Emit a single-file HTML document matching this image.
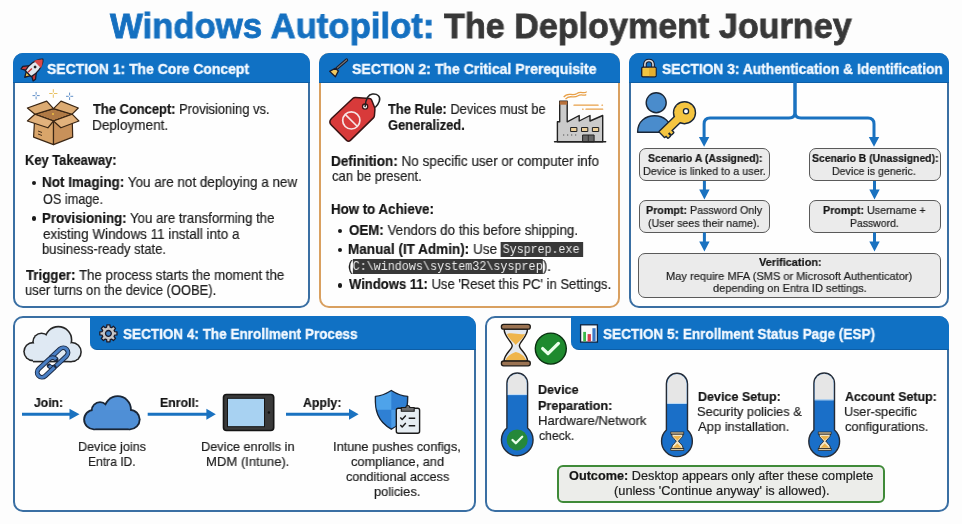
<!DOCTYPE html>
<html><head><meta charset="utf-8"><style>
*{margin:0;padding:0;box-sizing:border-box}
html,body{width:962px;height:524px;overflow:hidden;background:#fdfdfd;font-family:"Liberation Sans",sans-serif;color:#222}
.a{position:absolute}
.L{position:absolute;white-space:nowrap;transform-origin:0 0;will-change:transform;-webkit-text-stroke:0.2px currentColor}
b{font-weight:bold;color:#151515}
.code{background:#383838;color:#ececec;font-family:"Liberation Mono",monospace;font-size:0.86em;-webkit-text-stroke:0}
</style></head><body>
<!-- boxes -->
<div class="a" style="left:13.3px;top:53px;width:296.7px;height:254.5px;border:2.2px solid #3a6fa3;border-radius:10px;background:#fefefe;overflow:hidden"></div>
<div class="a" style="left:319px;top:53px;width:301px;height:254.5px;border:2.2px solid #d9a060;border-radius:10px;background:#fefefe;overflow:hidden"></div>
<div class="a" style="left:629.3px;top:53px;width:319.8px;height:254.5px;border:2.2px solid #3a6fa3;border-radius:10px;background:#fefefe;overflow:hidden"></div>
<div class="a" style="left:13.3px;top:316.3px;width:463.2px;height:195.5px;border:2.2px solid #3a6fa3;border-radius:10px;background:#fefefe;overflow:hidden"></div>
<div class="a" style="left:485.1px;top:316.3px;width:463.9px;height:195.5px;border:2.2px solid #3a6fa3;border-radius:10px;background:#fefefe;overflow:hidden"></div>
<div class="a" style="left:13.3px;top:53px;width:296.7px;height:29.8px;background:#1071c4;border-bottom:1px solid #0d5ea6;border-radius:10px 10px 0 0"></div>
<div class="a" style="left:319px;top:53px;width:301px;height:29.8px;background:#1071c4;border-bottom:1px solid #0d5ea6;border-radius:10px 10px 0 0"></div>
<div class="a" style="left:629.3px;top:53px;width:319.8px;height:29.8px;background:#1071c4;border-bottom:1px solid #0d5ea6;border-radius:10px 10px 0 0"></div>
<div class="a" style="left:90.4px;top:316.3px;width:386.1px;height:33.8px;background:#1071c4;border-bottom:1px solid #0d5ea6;border-radius:0 10px 0 7px"></div>
<div class="a" style="left:571px;top:316.3px;width:378px;height:33.8px;background:#1071c4;border-bottom:1px solid #0d5ea6;border-radius:0 10px 0 8px"></div>
<!-- s3 grey boxes -->
<div class="a" style="left:639.2px;top:147.6px;width:131px;height:33px;background:#ebebeb;border:1.4px solid #5a5a5a;border-radius:7px"></div>
<div class="a" style="left:808.8px;top:147.6px;width:131.9px;height:33px;background:#ebebeb;border:1.4px solid #5a5a5a;border-radius:7px"></div>
<div class="a" style="left:639.2px;top:200.3px;width:131px;height:32.4px;background:#ebebeb;border:1.4px solid #5a5a5a;border-radius:7px"></div>
<div class="a" style="left:808.8px;top:200.3px;width:131.9px;height:32.4px;background:#ebebeb;border:1.4px solid #5a5a5a;border-radius:7px"></div>
<div class="a" style="left:638.3px;top:252.7px;width:302.4px;height:45.5px;background:#ebebeb;border:1.4px solid #5a5a5a;border-radius:7px"></div>
<!-- outcome -->
<div class="a" style="left:556.8px;top:465px;width:328.2px;height:37.5px;background:#ecedea;border:2px solid #3f8a38;border-radius:6px"></div>
<!-- bullets -->
<div class="a" style="left:31.7px;top:180.9px;width:4.6px;height:4.6px;border-radius:50%;background:#1a1a1a"></div>
<div class="a" style="left:31.7px;top:216.4px;width:4.6px;height:4.6px;border-radius:50%;background:#1a1a1a"></div>
<div class="a" style="left:337.6px;top:228.9px;width:4.6px;height:4.6px;border-radius:50%;background:#1a1a1a"></div>
<div class="a" style="left:337.6px;top:247.6px;width:4.6px;height:4.6px;border-radius:50%;background:#1a1a1a"></div>
<div class="a" style="left:337.6px;top:283px;width:4.6px;height:4.6px;border-radius:50%;background:#1a1a1a"></div>

<div class="L" style="left:110.40px;top:0.97px;font-size:35px;line-height:49.0px;color:#1570c0;font-weight:bold;-webkit-text-stroke:0.8px #1570c0;transform:scaleX(0.9926)">Windows Autopilot:</div>
<div class="L" style="left:444.00px;top:0.97px;font-size:35px;line-height:49.0px;color:#383838;font-weight:bold;-webkit-text-stroke:0.8px #383838;transform:scaleX(0.9749)">The Deployment Journey</div>
<div class="L" style="left:47.15px;top:58.92px;font-size:14.6px;line-height:20.44px;color:#f3f9ff;font-weight:bold;-webkit-text-stroke:0.35px #f3f9ff;transform:scaleX(0.9548)">SECTION 1: The Core Concept</div>
<div class="L" style="left:351.54px;top:58.92px;font-size:14.6px;line-height:20.44px;color:#f3f9ff;font-weight:bold;-webkit-text-stroke:0.35px #f3f9ff;transform:scaleX(0.9631)">SECTION 2: The Critical Prerequisite</div>
<div class="L" style="left:661.85px;top:58.92px;font-size:14.6px;line-height:20.44px;color:#f3f9ff;font-weight:bold;-webkit-text-stroke:0.35px #f3f9ff;transform:scaleX(0.9454)">SECTION 3: Authentication &amp; Identification</div>
<div class="L" style="left:123.07px;top:323.62px;font-size:14.6px;line-height:20.44px;color:#f3f9ff;font-weight:bold;-webkit-text-stroke:0.35px #f3f9ff;transform:scaleX(0.9267)">SECTION 4: The Enrollment Process</div>
<div class="L" style="left:603.07px;top:323.62px;font-size:14.6px;line-height:20.44px;color:#f3f9ff;font-weight:bold;-webkit-text-stroke:0.35px #f3f9ff;transform:scaleX(0.9289)">SECTION 5: Enrollment Status Page (ESP)</div>
<div class="L" style="left:93.40px;top:99.84px;font-size:14.1px;line-height:19.74px;color:#1e1e1e;;transform:scaleX(0.9161)"><b>The Concept:</b> Provisioning vs.</div>
<div class="L" style="left:92.44px;top:115.94px;font-size:14.1px;line-height:19.74px;color:#1e1e1e;;transform:scaleX(0.9636)">Deployment.</div>
<div class="L" style="left:24.68px;top:151.44px;font-size:14.1px;line-height:19.74px;color:#1e1e1e;;transform:scaleX(0.9153)"><b>Key Takeaway:</b></div>
<div class="L" style="left:42.44px;top:173.14px;font-size:14.1px;line-height:19.74px;color:#1e1e1e;;transform:scaleX(0.9553)"><b>Not Imaging:</b> You are not deploying a new</div>
<div class="L" style="left:42.50px;top:189.54px;font-size:14.1px;line-height:19.74px;color:#1e1e1e;;transform:scaleX(0.9000)">OS image.</div>
<div class="L" style="left:42.46px;top:208.64px;font-size:14.1px;line-height:19.74px;color:#1e1e1e;;transform:scaleX(0.9390)"><b>Provisioning:</b> You are transforming the</div>
<div class="L" style="left:43.40px;top:224.54px;font-size:14.1px;line-height:19.74px;color:#1e1e1e;;transform:scaleX(0.9544)">existing Windows 11 install into a</div>
<div class="L" style="left:42.47px;top:240.14px;font-size:14.1px;line-height:19.74px;color:#1e1e1e;;transform:scaleX(0.9258)">business-ready state.</div>
<div class="L" style="left:25.60px;top:265.74px;font-size:14.1px;line-height:19.74px;color:#1e1e1e;;transform:scaleX(0.9429)"><b>Trigger:</b> The process starts the moment the</div>
<div class="L" style="left:24.68px;top:281.34px;font-size:14.1px;line-height:19.74px;color:#1e1e1e;;transform:scaleX(0.9175)">user turns on the device (OOBE).</div>
<div class="L" style="left:388.00px;top:99.74px;font-size:14.1px;line-height:19.74px;color:#1e1e1e;;transform:scaleX(0.9145)"><b>The Rule:</b> Devices must be</div>
<div class="L" style="left:388.00px;top:115.74px;font-size:14.1px;line-height:19.74px;color:#1e1e1e;;transform:scaleX(0.9157)"><b>Generalized.</b></div>
<div class="L" style="left:330.64px;top:151.94px;font-size:14.1px;line-height:19.74px;color:#1e1e1e;;transform:scaleX(0.9586)"><b>Definition:</b> No specific user or computer info</div>
<div class="L" style="left:331.60px;top:166.94px;font-size:14.1px;line-height:19.74px;color:#1e1e1e;;transform:scaleX(0.9240)">can be present.</div>
<div class="L" style="left:330.96px;top:199.54px;font-size:14.1px;line-height:19.74px;color:#1e1e1e;;transform:scaleX(0.9430)"><b>How to Achieve:</b></div>
<div class="L" style="left:348.60px;top:221.14px;font-size:14.1px;line-height:19.74px;color:#1e1e1e;;transform:scaleX(0.9461)"><b>OEM:</b> Vendors do this before shipping.</div>
<div class="L" style="left:347.64px;top:239.84px;font-size:14.1px;line-height:19.74px;color:#1e1e1e;;transform:scaleX(0.9598)"><b>Manual (IT Admin):</b> Use <span class="code" style="padding:0.8px 4px 0 2px;position:relative;top:-1px">Sysprep.exe</span></div>
<div class="L" style="left:347.63px;top:256.94px;font-size:14.1px;line-height:19.74px;color:#1e1e1e;;transform:scaleX(0.9691)">(<span class="code" style="padding:0.8px 0 0 0;position:relative;top:-1px">C:\windows\system32\sysprep</span>).</div>
<div class="L" style="left:348.60px;top:275.24px;font-size:14.1px;line-height:19.74px;color:#1e1e1e;;transform:scaleX(0.9252)"><b>Windows 11:</b> Use 'Reset this PC' in Settings.</div>
<div class="L" style="left:647.90px;top:151.18px;font-size:11.2px;line-height:15.68px;color:#1e1e1e;;transform:scaleX(0.9364)"><b>Scenario A (Assigned):</b></div>
<div class="L" style="left:643.43px;top:163.58px;font-size:11.2px;line-height:15.68px;color:#1e1e1e;;transform:scaleX(0.9672)">Device is linked to a user.</div>
<div class="L" style="left:812.20px;top:151.18px;font-size:11.2px;line-height:15.68px;color:#1e1e1e;;transform:scaleX(0.9289)"><b>Scenario B (Unassigned):</b></div>
<div class="L" style="left:832.35px;top:163.68px;font-size:11.2px;line-height:15.68px;color:#1e1e1e;;transform:scaleX(0.9483)">Device is generic.</div>
<div class="L" style="left:646.34px;top:203.48px;font-size:11.2px;line-height:15.68px;color:#1e1e1e;;transform:scaleX(0.9567)"><b>Prompt:</b> Password Only</div>
<div class="L" style="left:648.05px;top:216.18px;font-size:11.2px;line-height:15.68px;color:#1e1e1e;;transform:scaleX(0.9539)">(User sees their name).</div>
<div class="L" style="left:822.64px;top:203.28px;font-size:11.2px;line-height:15.68px;color:#1e1e1e;;transform:scaleX(0.9566)"><b>Prompt:</b> Username +</div>
<div class="L" style="left:850.27px;top:216.08px;font-size:11.2px;line-height:15.68px;color:#1e1e1e;;transform:scaleX(0.9320)">Password.</div>
<div class="L" style="left:758.70px;top:255.48px;font-size:11.2px;line-height:15.68px;color:#1e1e1e;;transform:scaleX(0.9778)"><b>Verification:</b></div>
<div class="L" style="left:665.81px;top:268.88px;font-size:11.2px;line-height:15.68px;color:#1e1e1e;;transform:scaleX(0.9879)">May require MFA (SMS or Microsoft Authenticator)</div>
<div class="L" style="left:712.80px;top:281.28px;font-size:11.2px;line-height:15.68px;color:#1e1e1e;;transform:scaleX(0.9814)">depending on Entra ID settings.</div>
<div class="L" style="left:34.20px;top:394.39px;font-size:13.2px;line-height:18.48px;color:#1e1e1e;;transform:scaleX(0.9233)"><b>Join:</b></div>
<div class="L" style="left:160.26px;top:394.19px;font-size:13.2px;line-height:18.48px;color:#1e1e1e;;transform:scaleX(0.9350)"><b>Enroll:</b></div>
<div class="L" style="left:302.50px;top:394.19px;font-size:13.2px;line-height:18.48px;color:#1e1e1e;;transform:scaleX(0.9350)"><b>Apply:</b></div>
<div class="L" style="left:77.94px;top:437.89px;font-size:13.2px;line-height:18.48px;color:#1e1e1e;;transform:scaleX(0.9557)">Device joins</div>
<div class="L" style="left:88.28px;top:453.29px;font-size:13.2px;line-height:18.48px;color:#1e1e1e;;transform:scaleX(0.9160)">Entra ID.</div>
<div class="L" style="left:201.33px;top:437.79px;font-size:13.2px;line-height:18.48px;color:#1e1e1e;;transform:scaleX(0.9663)">Device enrolls in</div>
<div class="L" style="left:206.41px;top:453.19px;font-size:13.2px;line-height:18.48px;color:#1e1e1e;;transform:scaleX(0.9902)">MDM (Intune).</div>
<div class="L" style="left:333.43px;top:437.69px;font-size:13.2px;line-height:18.48px;color:#1e1e1e;;transform:scaleX(0.9685)">Intune pushes configs,</div>
<div class="L" style="left:351.10px;top:453.19px;font-size:13.2px;line-height:18.48px;color:#1e1e1e;;transform:scaleX(0.9695)">compliance, and</div>
<div class="L" style="left:345.70px;top:468.29px;font-size:13.2px;line-height:18.48px;color:#1e1e1e;;transform:scaleX(0.9579)">conditional access</div>
<div class="L" style="left:373.83px;top:483.49px;font-size:13.2px;line-height:18.48px;color:#1e1e1e;;transform:scaleX(0.9717)">policies.</div>
<div class="L" style="left:537.55px;top:380.99px;font-size:13.2px;line-height:18.48px;color:#1e1e1e;;transform:scaleX(0.9537)"><b>Device</b></div>
<div class="L" style="left:537.54px;top:396.89px;font-size:13.2px;line-height:18.48px;color:#1e1e1e;;transform:scaleX(0.9566)"><b>Preparation:</b></div>
<div class="L" style="left:537.51px;top:412.19px;font-size:13.2px;line-height:18.48px;color:#1e1e1e;;transform:scaleX(0.9935)">Hardware/Network</div>
<div class="L" style="left:538.50px;top:427.49px;font-size:13.2px;line-height:18.48px;color:#1e1e1e;;transform:scaleX(0.9270)">check.</div>
<div class="L" style="left:697.55px;top:387.69px;font-size:13.2px;line-height:18.48px;color:#1e1e1e;;transform:scaleX(0.9494)"><b>Device Setup:</b></div>
<div class="L" style="left:697.33px;top:403.09px;font-size:13.2px;line-height:18.48px;color:#1e1e1e;;transform:scaleX(0.9720)">Security policies &amp;</div>
<div class="L" style="left:698.30px;top:418.29px;font-size:13.2px;line-height:18.48px;color:#1e1e1e;;transform:scaleX(0.9815)">App installation.</div>
<div class="L" style="left:844.90px;top:387.69px;font-size:13.2px;line-height:18.48px;color:#1e1e1e;;transform:scaleX(0.9417)"><b>Account Setup:</b></div>
<div class="L" style="left:843.94px;top:403.09px;font-size:13.2px;line-height:18.48px;color:#1e1e1e;;transform:scaleX(0.9560)">User-specific</div>
<div class="L" style="left:844.90px;top:418.29px;font-size:13.2px;line-height:18.48px;color:#1e1e1e;;transform:scaleX(0.9718)">configurations.</div>
<div class="L" style="left:569.40px;top:468.01px;font-size:12.6px;line-height:17.64px;color:#1e1e1e;;transform:scaleX(1.0086)"><b>Outcome:</b> Desktop appears only after these complete</div>
<div class="L" style="left:614.48px;top:483.01px;font-size:12.6px;line-height:17.64px;color:#1e1e1e;;transform:scaleX(1.0162)">(unless 'Continue anyway' is allowed).</div>
<svg class="a" style="left:0;top:0" width="962" height="524" viewBox="0 0 962 524">
<defs>
  <marker id="ah" viewBox="0 0 10 10" refX="0" refY="5" markerWidth="10" markerHeight="10" markerUnits="userSpaceOnUse" orient="auto"><path d="M0,0 L10,5 L0,10 z" fill="#1a72c0"/></marker>
</defs>
<!-- ===== S1 header rocket ===== -->
<g transform="translate(33.8,68.2) rotate(45)" stroke="#1b1b2a" stroke-width="1.3" stroke-linejoin="round">
  <path d="M-4.5,1 L-9,6.5 L-8.5,9.5 L-4,7 z M4.5,1 L9,6.5 L8.5,9.5 L4,7 z" fill="#c83838"/>
  <path d="M-3,7.5 L0,12.8 L3,7.5 z" fill="#f5c842"/>
  <path d="M0,-12.8 C5.5,-8 5.8,2 4.2,7.8 L-4.2,7.8 C-5.8,2 -5.5,-8 0,-12.8 z" fill="#e2e6ec"/>
  <path d="M0,-12.3 C3.2,-9.5 4.4,-7 4.9,-5.2 L-4.9,-5.2 C-4.4,-7 -3.2,-9.5 0,-12.3 z" fill="#d84848" stroke="none"/>
  <path d="M-1.2,1.5 L-1.2,7" stroke="#c83838" stroke-width="1.4"/>
  <circle cx="0" cy="-1.8" r="1.4" fill="#222" stroke="none"/>
</g>
<!-- ===== S1 box icon ===== -->
<g transform="translate(20,85)" stroke="#3a2614" stroke-width="1.2" stroke-linejoin="round">
  <path d="M14.9,29.2 L33.5,23.6 L52.1,29.2 L33.5,36 z" fill="#b07a45"/>
  <path d="M14.9,29.2 L7.4,23 L26.7,16.1 L33.5,23.6 z" fill="#dcab72"/>
  <path d="M33.5,23.6 L41,16.1 L58.3,23 L52.1,29.2 z" fill="#dcab72"/>
  <path d="M14.9,29.2 L33.5,36 L33.5,59.6 L13.6,52.1 z" fill="#d9a56a"/>
  <path d="M33.5,36 L52.1,29.2 L52.7,52.1 L33.5,59.6 z" fill="#c8915a"/>
  <path d="M14.9,29.2 L33.5,36 L27.9,42.8 L7.4,36 z" fill="#e2b27c"/>
  <path d="M33.5,36 L52.1,29.2 L58.9,36 L40.9,42.8 z" fill="#e2b27c"/>
  <path d="M18,46 L22,47.5 M18,49 L22,50.5" stroke-width="0.9"/>
  <circle cx="33" cy="29" r="0.9" fill="#f5c842" stroke="none"/>
</g>
<g stroke-width="1" stroke-linecap="round">
  <path d="M36.1,92.3 v2 M36.1,96.9 v2 M32.9,95.6 h2 M37.3,95.6 h2" stroke="#5f8fc8"/>
  <path d="M53.3,89.6 v2.6 M53.3,94.8 v2.6 M49.6,93.5 h2.6 M54.4,93.5 h2.6" stroke="#e8c060"/>
  <path d="M69.6,93 v2 M69.6,97.6 v2 M66.4,96.3 h2 M70.8,96.3 h2" stroke="#5f8fc8"/>
</g>
<!-- ===== S2 header broom ===== -->
<g stroke="#1b1b2a" stroke-linejoin="round">
  <path d="M346.6,60 L337.4,67.9" stroke-width="3.2" stroke-linecap="round"/>
  <path d="M346.6,60 L337.4,67.9" stroke="#777" stroke-width="1.2" stroke-linecap="round"/>
  <path d="M329.7,71.4 L335.2,68.2 L338.4,70.9 L335.4,76.8 z" fill="#f0c860" stroke-width="1.3"/>
</g>
<!-- ===== S2 tag ===== -->
<g transform="translate(325,86)" stroke-linejoin="round">
  <path d="M6.5,32.5 L28,12.3 Q29,11.4 30.5,11.5 L44.5,12.5 Q46,12.6 46.6,14 L49.6,21.5 Q50,22.5 49.9,23.8 L49.4,29.8 Q49.3,31 48.4,31.9 L25.4,54.4 Q23.5,56.2 21.6,54.4 L6.5,39.3 Q3.2,36 6.5,32.5 z" fill="#d83a3a" stroke="#3a1414" stroke-width="1.5"/>
  <circle cx="40.1" cy="20.6" r="2.6" fill="#fff" stroke="#3a1414" stroke-width="1.3"/>
  <path d="M40.1,20.6 C40.8,13 42.5,8.6 47.5,8.1 C52.5,7.6 56,10.5 54.3,15.2 C53.5,17.5 52.3,19.3 50.6,21" fill="none" stroke="#222" stroke-width="1.5" stroke-linecap="round"/>
  <circle cx="26.3" cy="34.4" r="8.6" fill="none" stroke="#f6e4e4" stroke-width="1.7"/>
  <path d="M20.2,28.3 L32.4,40.5" stroke="#f6e4e4" stroke-width="1.7"/>
</g>
<!-- ===== S2 factory ===== -->
<g transform="translate(550,88)" stroke-linejoin="round">
  <path d="M13.7,9.2 C18,3 22,9 27,5.5 C31,2.5 34,6.5 36.7,3.6 M15.5,11.2 C19.5,6 23,11 28,7.8 C31.5,5.5 34,8.5 36.2,6.5" fill="none" stroke="#e8a048" stroke-width="1.3"/>
  <path d="M24,17.2 H48.1 M32.6,21.2 h0.5 M36,21.2 H52.7 M52,17.2 h0.5" stroke="#e8a048" stroke-width="1.3" stroke-linecap="round"/>
  <path d="M7.4,53.8 V33.8 H9.7 V13.2 H17.2 V33.8 L29.2,27.5 V33 L40,27.5 V33 L52.7,27.5 V53.8 z" fill="#cbcbcb" stroke="#222" stroke-width="1.4"/>
  <rect x="9.7" y="13.2" width="7.5" height="3.5" fill="#b8703a" stroke="none"/>
  <rect x="20.6" y="39.5" width="6.3" height="4" fill="#edd09a" stroke="#222" stroke-width="1"/>
  <rect x="31.5" y="39.5" width="6.3" height="4" fill="#edd09a" stroke="#222" stroke-width="1"/>
  <rect x="42.4" y="39.5" width="6.3" height="4" fill="#edd09a" stroke="#222" stroke-width="1"/>
  <rect x="32.6" y="47" width="11.5" height="6.8" fill="#666" stroke="#222" stroke-width="1"/>
  <path d="M38.3,47 V53.8" stroke="#222" stroke-width="0.8"/>
  <path d="M13.2,47 h1 M17.2,47 h1 M21.2,47 h1 M25.2,47 h1" stroke="#333" stroke-width="1.2"/>
  <path d="M4.6,53.8 H55.6" stroke="#222" stroke-width="1.6" stroke-linecap="round"/>
</g>
<!-- ===== S3 header lock ===== -->
<g stroke="#1b1b2a" stroke-linejoin="round">
  <path d="M644.9,67.5 V64 A4.1,4.1 0 0 1 653,64 V67.5" fill="none" stroke-width="3.6"/>
  <path d="M644.9,67.5 V64 A4.1,4.1 0 0 1 653,64 V67.5" fill="none" stroke="#d8d8d8" stroke-width="1.6"/>
  <rect x="641.7" y="67.2" width="14.4" height="9.6" rx="1.3" fill="#f2c440" stroke-width="1.3"/>
  <rect x="649" y="67.9" width="6.4" height="8.2" fill="#e6ae2e" stroke="none"/>
</g>
<!-- ===== S3 person key ===== -->
<g transform="translate(633,88)" stroke-linejoin="round">
  <circle cx="23.2" cy="14.7" r="10" fill="#4a8ccc" stroke="#1a2636" stroke-width="1.4"/>
  <path d="M4.6,44.3 C4.6,33 13,27.8 21.5,27.8 C30,27.8 38.4,33 38.4,44.3 z" fill="#4a8ccc" stroke="#1a2636" stroke-width="1.4"/>
  <g transform="translate(51.5,24.7) rotate(136)">
    <g fill="#1a2636" stroke="#1a2636" stroke-width="2.8">
      <circle r="10.3"/>
      <path d="M8,3.6 H31 V-3.6 H29 V-6.4 H26.5 V-3.6 H24.5 V-6.4 H22 V-3.6 H8 z"/>
    </g>
    <g fill="#f5c540">
      <circle r="10.3"/>
      <path d="M8,3.6 H31 V-3.6 H29 V-6.4 H26.5 V-3.6 H24.5 V-6.4 H22 V-3.6 H8 z"/>
    </g>
  </g>
  <circle cx="53" cy="23.2" r="2.6" fill="#fff" stroke="#1a2636" stroke-width="1.3"/>
</g>
<!-- S3 flow lines -->
<g fill="none" stroke="#1a72c0" stroke-width="3" stroke-linejoin="round">
  <path d="M795,82 V112 Q795,118 789,118 H710 Q704.1,118 704.1,124 V137"/>
  <path d="M795,82 V112 Q795,118 801,118 H868 Q874,118 874,124 V137"/>
  <path d="M704.4,181 V190 M874.5,181 V190 M704.4,232.5 V242 M874.5,232.5 V242"/>
</g>
<g fill="#1a72c0">
  <path d="M698.9,137 H709.3 L704.1,146.7 z M868.8,137 H879.2 L874,146.7 z"/>
  <path d="M699.2,189.6 H709.6 L704.4,199.6 z M869.3,189.6 H879.7 L874.5,199.6 z"/>
  <path d="M699.2,241.6 H709.6 L704.4,251.6 z M869.3,241.6 H879.7 L874.5,251.6 z"/>
</g>
<!-- ===== S4 header gear ===== -->
<g transform="translate(108.4,333.4)">
  <path id="gear" d="M-1.81,-6.24 L-1.50,-8.57 L1.50,-8.57 L1.81,-6.24 L3.13,-5.70 L5.00,-7.12 L7.12,-5.00 L5.70,-3.13 L6.24,-1.81 L8.57,-1.50 L8.57,1.50 L6.24,1.81 L5.70,3.13 L7.12,5.00 L5.00,7.12 L3.13,5.70 L1.81,6.24 L1.50,8.57 L-1.50,8.57 L-1.81,6.24 L-3.13,5.70 L-5.00,7.12 L-7.12,5.00 L-5.70,3.13 L-6.24,1.81 L-8.57,1.50 L-8.57,-1.50 L-6.24,-1.81 L-5.70,-3.13 L-7.12,-5.00 L-5.00,-7.12 L-3.13,-5.70 z" fill="#c6c6c6" stroke="#1b1b2a" stroke-width="1.3" stroke-linejoin="round"/>
  <circle r="2.9" fill="#3d82c8" stroke="#1b1b2a" stroke-width="1.3"/>
</g>
<!-- ===== S4 cloud link ===== -->
<g transform="translate(20,322)">
  <g fill="#262626">
    <circle cx="13" cy="29.6" r="9.8"/><circle cx="21.5" cy="19.8" r="9.3"/><circle cx="38.3" cy="17.9" r="14.1"/><circle cx="51.6" cy="30" r="10.3"/>
    <rect x="13" y="24" width="38.6" height="16.4"/>
  </g>
  <g fill="#dfe9f3">
    <circle cx="13" cy="29.6" r="8.2"/><circle cx="21.5" cy="19.8" r="7.7"/><circle cx="38.3" cy="17.9" r="12.5"/><circle cx="51.6" cy="30" r="8.7"/>
    <rect x="13" y="24" width="38.6" height="14.8"/>
  </g>
  <g transform="translate(32.6,40.5) rotate(-43)" fill="none">
    <path d="M2,-4.8 H14.5 A4.8,4.8 0 0 1 14.5,4.8 H0 A4.8,4.8 0 0 1 -4.8,0" stroke="#1b2a44" stroke-width="4.8" stroke-linecap="round"/>
    <path d="M2,-4.8 H14.5 A4.8,4.8 0 0 1 14.5,4.8 H0 A4.8,4.8 0 0 1 -4.8,0" stroke="#4a7fc4" stroke-width="3"/>
    <path d="M-2,4.8 H-14.5 A4.8,4.8 0 0 1 -14.5,-4.8 H0 A4.8,4.8 0 0 1 4.8,0" stroke="#1b2a44" stroke-width="4.8" stroke-linecap="round"/>
    <path d="M-2,4.8 H-14.5 A4.8,4.8 0 0 1 -14.5,-4.8 H0 A4.8,4.8 0 0 1 4.8,0" stroke="#4a7fc4" stroke-width="3"/>
  </g>
</g>
<!-- S4 arrows -->
<g stroke="#1a72c0" stroke-width="2.9">
  <path d="M22,414.3 H70"/><path d="M147.7,414.3 H207"/><path d="M286,414.3 H350"/>
</g>
<g fill="#1a72c0">
  <path d="M69.5,408.8 L79.5,414.3 L69.5,419.8 z"/>
  <path d="M206.4,408.8 L215.8,414.3 L206.4,419.8 z"/>
  <path d="M349,408.8 L358.6,414.3 L349,419.8 z"/>
</g>
<!-- S4 cloud -->
<g>
  <circle cx="93.8" cy="419.6" r="10.6" fill="#1a2636"/>
  <circle cx="100" cy="410.5" r="9.2" fill="#1a2636"/>
  <circle cx="117.7" cy="409.4" r="14.1" fill="#1a2636"/>
  <circle cx="130" cy="419.6" r="10.6" fill="#1a2636"/>
  <rect x="93.8" y="409" width="36.2" height="21.2" fill="#1a2636"/>
  <circle cx="93.8" cy="419.6" r="8.8" fill="#4f8fd6"/>
  <circle cx="100" cy="410.5" r="7.4" fill="#4f8fd6"/>
  <circle cx="117.7" cy="409.4" r="12.3" fill="#5392d8"/>
  <circle cx="130" cy="419.6" r="8.8" fill="#4f8fd6"/>
  <rect x="93.8" y="410" width="36.2" height="18.4" fill="#4f8fd6"/>
</g>
<!-- S4 tablet -->
<rect x="223.5" y="394.5" width="50.2" height="36" rx="3" fill="#3a3a3a" stroke="#151515" stroke-width="1.6"/>
<rect x="227.5" y="398.3" width="37" height="28.4" fill="#a8d2f2" stroke="#151515" stroke-width="1"/>
<circle cx="268.9" cy="412.5" r="1.2" fill="#111"/>
<!-- S4 shield + clipboard -->
<g transform="translate(368,386)" stroke-linejoin="round">
  <path d="M23.3,4.5 C17,8.5 12,10.2 7.4,10.4 C7,24 9,35 23.3,43.2 C37.6,35 39.7,24 39.7,10.4 C34.6,10.2 29.6,8.5 23.3,4.5 z" fill="#2f80d4" stroke="#1a2636" stroke-width="1.4"/>
  <path d="M23.3,5.5 C17,9.2 12,10.8 8.2,11 C8.1,16 8.3,20 9,23.8 H23.3 z" fill="#4ea3ea"/>
  <path d="M23.3,23.8 H38.5 C37,32 33,37.5 23.3,42.3 z" fill="#4a9be6"/>
  <rect x="28.3" y="22.3" width="23.3" height="24.9" rx="2" fill="#e6edf2" stroke="#1a1a1a" stroke-width="1.4"/>
  <path d="M33.3,25.3 V21.5 H37.8 A2,2 0 0 1 41.8,21.5 H46.2 V25.3 z" fill="#6e6e6e" stroke="#1a1a1a" stroke-width="1.1"/>
  <path d="M32.3,31.5 L34.2,33.5 L37.8,29.5 M32.3,39 L34.2,41 L37.8,37" fill="none" stroke="#1a1a1a" stroke-width="1.4"/>
  <path d="M40.7,32.3 H47.2 M40.7,39.7 H47.2" stroke="#1a1a1a" stroke-width="1.6"/>
</g>
<!-- ===== S5 header chart ===== -->
<rect x="580.6" y="324.8" width="16.8" height="17.3" fill="#fafafa" stroke="#0d2440" stroke-width="1.3"/>
<rect x="583.2" y="331.9" width="2.8" height="9.6" fill="#3cb84a"/>
<rect x="587.6" y="334.1" width="3.3" height="7.4" fill="#d83a4a"/>
<rect x="592.4" y="328.2" width="3.2" height="13.3" fill="#3a78c8"/>
<!-- S5 hourglass -->
<g transform="translate(496,320)" stroke="#1e1a16" stroke-linejoin="round">
  <path d="M8.1,9.1 C8.1,17 16.2,22 16.2,25.7 C16.2,29.5 8.1,34 8.1,41 H31.5 C31.5,34 23.4,29.5 23.4,25.7 C23.4,22 31.5,17 31.5,9.1 z" fill="#e4e8ee" stroke-width="1.4"/>
  <path d="M11,14 C16,12 22,15 29,14 C27,19 22,22 19.8,25 C17.5,22 12,18 11,14 z" fill="#efb54c" stroke="none"/>
  <path d="M19.8,26 L19.8,32 C24,33 29,36 30.3,40.5 H9.3 C11,36 16,33 19.8,32 z" fill="#efb54c" stroke="none"/>
  <rect x="5.4" y="4.3" width="28.9" height="4.8" rx="2.2" fill="#9b7352" stroke-width="1.3"/>
  <rect x="5.4" y="41" width="28.9" height="4.8" rx="2.2" fill="#9b7352" stroke-width="1.3"/>
</g>
<circle cx="550.8" cy="348.6" r="15.5" fill="#1e8a2e" stroke="#0a3010" stroke-width="1.4"/>
<path d="M542.7,348.6 L548,353.6 L558.4,343.4" fill="none" stroke="#eaffea" stroke-width="3.3" stroke-linecap="round" stroke-linejoin="round"/>
<!-- S5 thermometers -->
<g id="therm1" stroke-linejoin="round">
  <path d="M506.9,383.3 A10.35,10.35 0 0 1 527.6,383.3 V428 A15.8,15.8 0 1 1 506.9,428 z" fill="#1a6fc8" stroke="#262c36" stroke-width="1.4"/>
  <path d="M507.7,383.3 A9.55,9.55 0 0 1 526.8,383.3 V394.3 H507.7 z" fill="#e6e6e6"/>
  <path d="M507.7,394.6 H526.8" stroke="#cfe6fa" stroke-width="1"/>
  <circle cx="517.2" cy="439.9" r="10.5" fill="#25883a"/>
  <path d="M512.5,440 L515.8,443.2 L522.2,436.8" fill="none" stroke="#eaffea" stroke-width="2.3" stroke-linecap="round"/>
</g>
<g stroke-linejoin="round">
  <path d="M666.4,383.8 A10.55,10.55 0 0 1 687.5,383.8 V430 A15.4,15.4 0 1 1 666.4,430 z" fill="#1a6fc8" stroke="#262c36" stroke-width="1.4"/>
  <path d="M667.2,383.8 A9.75,9.75 0 0 1 686.7,383.8 V403.1 H667.2 z" fill="#e6e6e6"/>
  <path d="M667.2,403.4 H686.7" stroke="#cfe6fa" stroke-width="1"/>
</g>
<g stroke-linejoin="round">
  <path d="M813.9,383.3 A10.3,10.3 0 0 1 834.5,383.3 V430 A15.4,15.4 0 1 1 813.9,430 z" fill="#1a6fc8" stroke="#262c36" stroke-width="1.4"/>
  <path d="M814.7,383.3 A9.5,9.5 0 0 1 833.7,383.3 V399.6 H814.7 z" fill="#e6e6e6"/>
  <path d="M814.7,399.9 H833.7" stroke="#cfe6fa" stroke-width="1"/>
</g>
<g id="hg2">
  <path d="M671.5,434 H683.2 C683.2,438 678.5,440 678.5,441.2 C678.5,442.4 683.2,444.5 683.2,448.5 H671.5 C671.5,444.5 676.2,442.4 676.2,441.2 C676.2,440 671.5,438 671.5,434 z" fill="#f2e6c8" stroke="#222" stroke-width="0.9"/>
  <path d="M673,436 H681.7 L677.35,440.5 z M673,447.8 L677.35,443.5 L681.7,447.8 z" fill="#eab24a"/>
  <rect x="670.8" y="432" width="13" height="2" fill="#d9c7a0" stroke="#222" stroke-width="0.7"/>
  <rect x="670.8" y="448.5" width="13" height="2" fill="#d9c7a0" stroke="#222" stroke-width="0.7"/>
</g>
<g transform="translate(147.4,0)">
  <path d="M671.5,434 H683.2 C683.2,438 678.5,440 678.5,441.2 C678.5,442.4 683.2,444.5 683.2,448.5 H671.5 C671.5,444.5 676.2,442.4 676.2,441.2 C676.2,440 671.5,438 671.5,434 z" fill="#f2e6c8" stroke="#222" stroke-width="0.9"/>
  <path d="M673,436 H681.7 L677.35,440.5 z M673,447.8 L677.35,443.5 L681.7,447.8 z" fill="#eab24a"/>
  <rect x="670.8" y="432" width="13" height="2" fill="#d9c7a0" stroke="#222" stroke-width="0.7"/>
  <rect x="670.8" y="448.5" width="13" height="2" fill="#d9c7a0" stroke="#222" stroke-width="0.7"/>
</g>
</svg>
</body></html>
